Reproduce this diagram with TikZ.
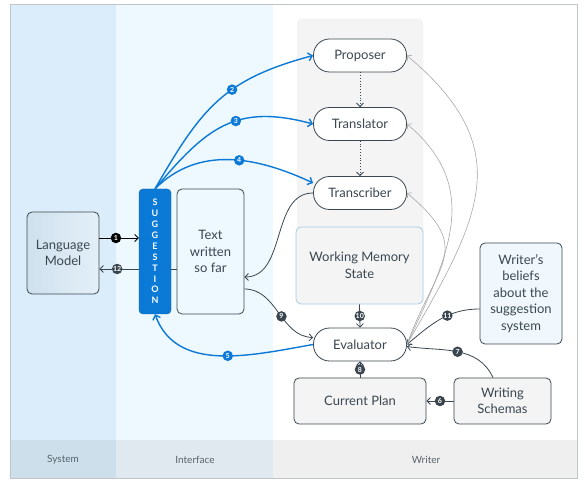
\documentclass[tikz,border=0pt]{standalone}
\usepackage{fontspec}
\setmainfont{Lato}
\usepackage{tikz}
\usetikzlibrary{arrows.meta}
\usetikzlibrary{calc}
\usetikzlibrary{positioning}
\definecolor{ws-ink}{HTML}{3B4750}
\definecolor{ws-blue}{HTML}{0B79D6}
\definecolor{ws-bluedark}{HTML}{0A63B0}
\definecolor{ws-system}{HTML}{DBEDFA}
\definecolor{ws-interface}{HTML}{EEF8FF}
\definecolor{ws-systemfoot}{HTML}{CCDFEB}
\definecolor{ws-interfacefoot}{HTML}{DFE9EF}
\definecolor{ws-writerfoot}{HTML}{EFEFEF}
\definecolor{ws-frame}{HTML}{BFC4C8}
\definecolor{ws-panel}{HTML}{F4F4F4}
\definecolor{ws-arc}{HTML}{A8A8A8}
\definecolor{ws-memory}{HTML}{A9CCE3}
\definecolor{ws-badge}{HTML}{3A464F}
\definecolor{ws-beliefs}{HTML}{F0F8FD}
\definecolor{ws-model-l}{HTML}{CFE1EE}
\definecolor{ws-model-r}{HTML}{E4EFF7}

\tikzset{
  boxtext/.style={font=\fontsize{13}{16.5}\selectfont, text=ws-ink, align=center, inner sep=2pt},
  pill/.style={boxtext, draw=ws-ink, line width=0.8pt, fill=white, rounded corners=16pt,
    minimum width=93pt, minimum height=33pt},
  plainbox/.style={boxtext, draw=ws-ink, line width=0.8pt, fill=ws-panel, rounded corners=5pt},
  column/.style={font=\fontsize{10}{12}\selectfont, text=ws-ink!85},
  badge/.style={circle, fill=ws-badge, text=white, inner sep=0pt, minimum size=10.5pt,
    font=\fontsize{7}{7}\selectfont\bfseries},
  flow/.style={draw=ws-ink, line width=0.8pt, -{Straight Barb[length=3.5pt, width=7pt]}},
  sugflow/.style={draw=ws-blue, line width=1.4pt, -{Straight Barb[length=4pt, width=8pt]}},
  feedback/.style={draw=ws-arc, line width=0.6pt, -{Straight Barb[length=3.5pt, width=7pt]}}
}

\begin{document}
\begin{tikzpicture}[x=1pt, y=1pt]

    % canvas
    \useasboundingbox (0,0) rectangle (587,-486);

    % columns
    \fill[ws-system] (10,-4) rectangle (116,-440);
    \fill[ws-interface] (116,-4) rectangle (273,-440);
    \fill[ws-systemfoot] (10,-440) rectangle (116,-478);
    \fill[ws-interfacefoot] (116,-440) rectangle (273,-478);
    \fill[ws-writerfoot] (273,-440) rectangle (577,-478);
    \draw[ws-frame, line width=0.8pt] (10,-4) rectangle (577,-478);

    % column titles
    \node[column] (system) at (63,-460) {System};
    \node[column] (interface) at (195,-460) {Interface};
    \node[column] (writer) at (426,-460) {Writer};

    % writer panel
    \draw[fill=ws-panel, draw=black!7, rounded corners=6pt] (297,-19) rectangle (423,-304);

    % writer processes
    \node[pill] (proposer) at (360,-55.5) {Proposer};
    \node[pill] (translator) at (360,-124) {Translator};
    \node[pill] (transcriber) at (360,-193) {Transcriber};
    \node[plainbox, draw=ws-memory, minimum width=127pt, minimum height=77pt] (memory) at (359.5,-265.5) {Working Memory\\State};
    \node[pill] (evaluator) at (360,-344.5) {Evaluator};
    \node[plainbox, minimum width=132pt, minimum height=46pt] (plan) at (360,-401) {Current Plan};
    \node[plainbox, minimum width=97pt, minimum height=46pt] (schemas) at (502.5,-401) {Writing\\Schemas};
    \node[plainbox, fill=ws-beliefs, minimum width=82pt, minimum height=101pt] (beliefs) at (521,-293.5) {Writer’s\\beliefs\\about the\\suggestion\\system};

    % system and interface
    \node[plainbox, left color=ws-model-l, right color=ws-model-r, minimum width=72pt, minimum height=82pt] (model) at (63,-253) {Language\\Model};
    \node[draw=ws-bluedark, fill=ws-blue, rounded corners=4pt, minimum width=32pt, minimum height=125pt,
      text=white, align=center, font=\fontsize{9}{10.9}\selectfont\bfseries] (suggestion) at (155,-251.5) {S\\U\\G\\G\\E\\S\\T\\I\\O\\N};
    \node[plainbox, fill=ws-interface, minimum width=67pt, minimum height=125pt] (draft) at (210.5,-251.5) {Text\\written\\so far};

    % system <-> interface
    \coordinate (modelout) at ([yshift=15pt]model.east);
    \draw[flow, draw=black] (modelout) -- (modelout -| suggestion.west) node[badge, fill=black, pos=.42] (b1) {1};
    \coordinate (draftout) at ([yshift=-17.5pt]draft.west);
    \draw[draw=ws-ink, line width=0.8pt] (draftout) -- (draftout -| suggestion.east);
    \draw[flow] (draftout -| suggestion.west) -- (draftout -| model.east) node[badge, pos=.55] (b12) {12};

    % suggestion to writer
    \draw[sugflow] (suggestion.north) to[out=60, in=195, looseness=1.15] node[badge, fill=ws-blue, pos=.6] (b2) {2} (proposer.west);
    \draw[sugflow] (suggestion.north) to[out=50, in=165, looseness=1.2] node[badge, fill=ws-blue, pos=.58] (b3) {3} (translator.west);
    \draw[sugflow] (suggestion.north) to[out=45, in=155] node[badge, fill=ws-blue, pos=.56] (b4) {4} ([yshift=10pt]transcriber.west);
    \draw[sugflow] (evaluator.west) to[out=190, in=-70] node[badge, fill=ws-blue, pos=.45] (b5) {5} (suggestion.south);

    % writing process
    \draw[flow, dotted] (proposer.south) -- (translator.north);
    \draw[flow, dotted] (translator.south) -- (transcriber.north);
    \draw[flow] (transcriber.west) to[out=180, in=0] ([yshift=-25.5pt]draft.east);
    \draw[flow] ([yshift=-37.5pt]draft.east) to[out=0, in=178] node[badge, pos=.55] (b9) {9} ([yshift=7pt]evaluator.west);
    \draw[flow] (memory.south) -- (evaluator.north) node[badge, midway] (b10) {10};
    \draw[flow] (plan.north) -- (evaluator.south) node[badge, midway] (b8) {8};
    \draw[flow] (schemas.west) -- (plan.east) node[badge, midway] (b6) {6};
    \draw[flow] ([xshift=-9.5pt]schemas.north) to[out=115, in=-8] node[badge, pos=.5] (b7) {7} ([yshift=-2pt]evaluator.east);
    \draw[flow] ([yshift=-15.5pt]beliefs.west) to[out=180, in=40] node[badge, pos=.4] (b11) {11} (evaluator.east);

    % feedback
    \draw[feedback] (evaluator.east) to[out=60, in=-40, looseness=1.3] (proposer.east);
    \draw[feedback] (evaluator.east) to[out=65, in=-40, looseness=1.15] (translator.east);
    \draw[feedback] (evaluator.east) to[out=70, in=-40, looseness=1.5] (transcriber.east);

\end{tikzpicture}
\end{document}
